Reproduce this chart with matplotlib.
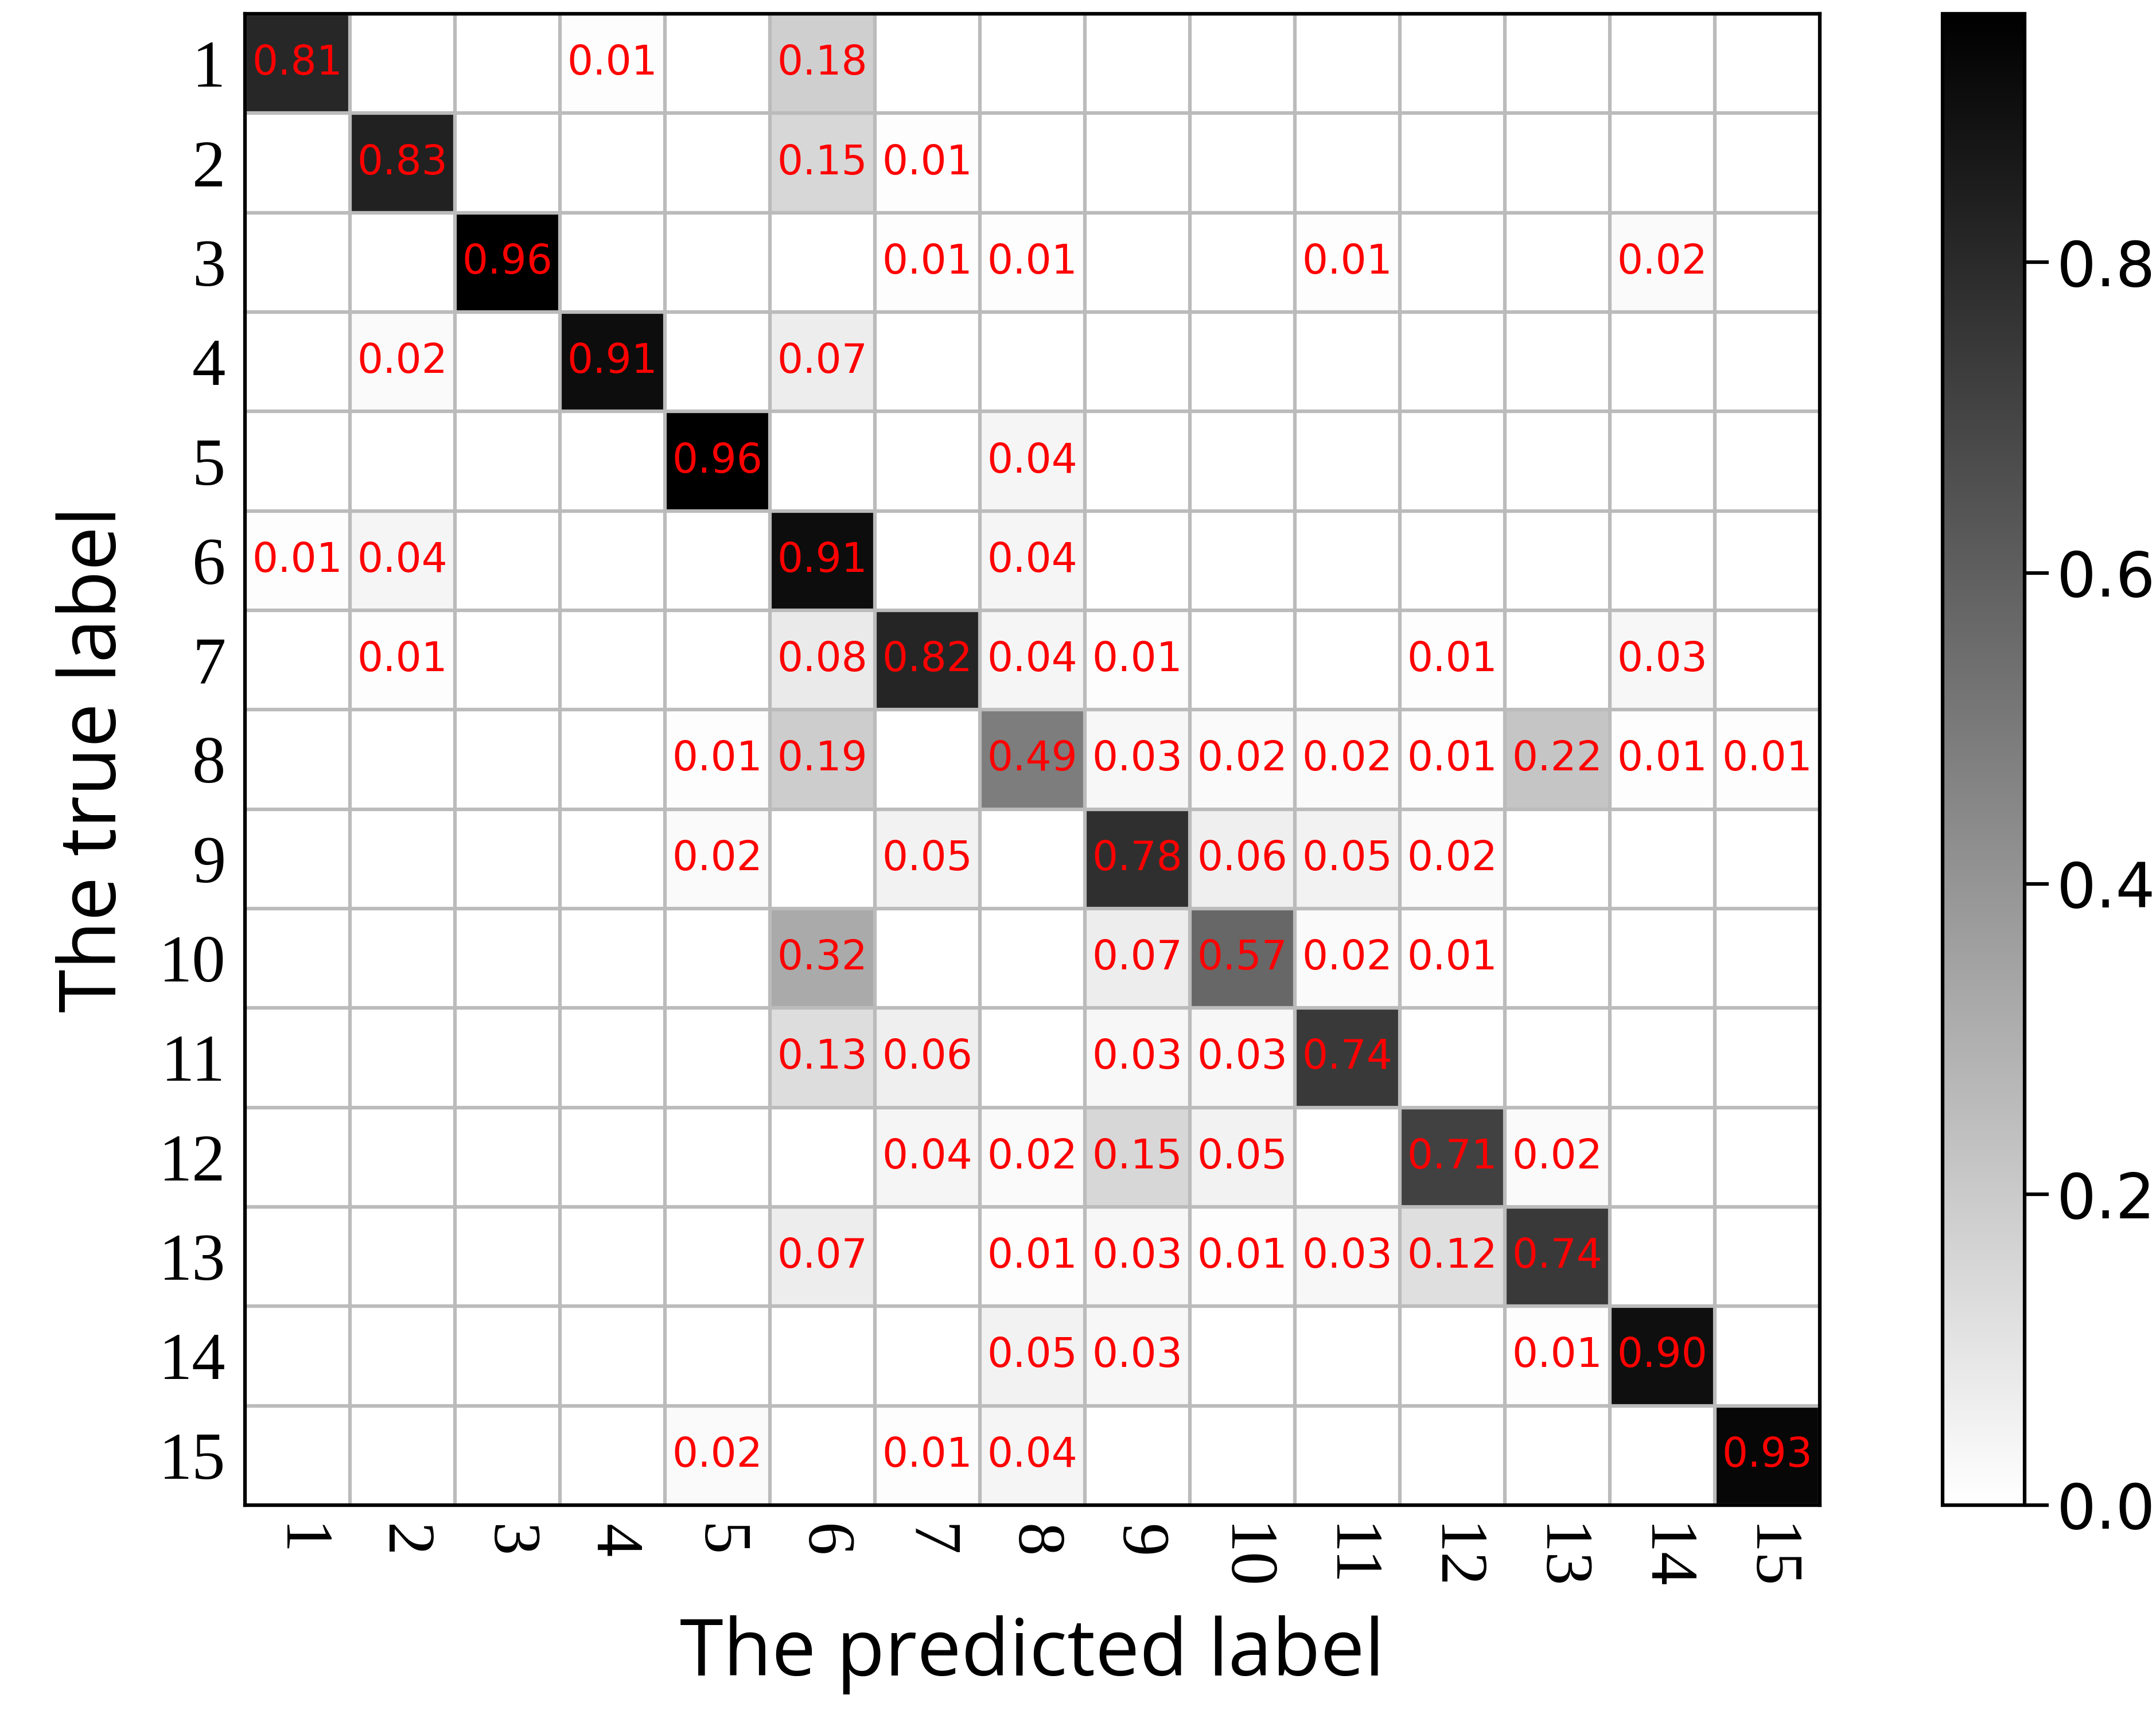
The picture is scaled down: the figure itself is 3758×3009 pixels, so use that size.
import matplotlib.pyplot as plt
import numpy as np

labels = [str(i) for i in range(1, 16)]

# nonzero entries per true-label row: {predicted column: value}
rows = [
    {1: 0.81, 4: 0.01, 6: 0.18},
    {2: 0.83, 6: 0.15, 7: 0.01},
    {3: 0.96, 7: 0.01, 8: 0.01, 11: 0.01, 14: 0.02},
    {2: 0.02, 4: 0.91, 6: 0.07},
    {5: 0.96, 8: 0.04},
    {1: 0.01, 2: 0.04, 6: 0.91, 8: 0.04},
    {2: 0.01, 6: 0.08, 7: 0.82, 8: 0.04, 9: 0.01, 12: 0.01, 14: 0.03},
    {5: 0.01, 6: 0.19, 8: 0.49, 9: 0.03, 10: 0.02, 11: 0.02, 12: 0.01,
     13: 0.22, 14: 0.01, 15: 0.01},
    {5: 0.02, 7: 0.05, 9: 0.78, 10: 0.06, 11: 0.05, 12: 0.02},
    {6: 0.32, 9: 0.07, 10: 0.57, 11: 0.02, 12: 0.01},
    {6: 0.13, 7: 0.06, 9: 0.03, 10: 0.03, 11: 0.74},
    {7: 0.04, 8: 0.02, 9: 0.15, 10: 0.05, 12: 0.71, 13: 0.02},
    {6: 0.07, 8: 0.01, 9: 0.03, 10: 0.01, 11: 0.03, 12: 0.12, 13: 0.74},
    {8: 0.05, 9: 0.03, 13: 0.01, 14: 0.90},
    {5: 0.02, 7: 0.01, 8: 0.04, 15: 0.93},
]

n = len(labels)
cm = np.zeros((n, n))
for i, r in enumerate(rows):
    for j, v in r.items():
        cm[i, j - 1] = v

fig = plt.figure(figsize=(3758 / 300, 3009 / 300), dpi=300)
ax = fig.add_axes([0.1135, 0.128, 0.7305, 0.864])
cax = fig.add_axes([0.901, 0.128, 0.038, 0.864])

im = ax.imshow(cm, cmap="gray_r", vmin=0, vmax=0.96, aspect="auto")

for i in range(n):
    for j in range(n):
        if cm[i, j] > 0:
            ax.text(j, i, f"{cm[i, j]:.2f}", ha="center", va="center",
                    color="red", fontsize=17)

# cell grid
ax.set_xticks(np.arange(-0.5, n, 1), minor=True)
ax.set_yticks(np.arange(-0.5, n, 1), minor=True)
ax.grid(which="minor", color="#bbbbbb", linewidth=1.5)
ax.tick_params(which="minor", length=0)

ax.set_xticks(range(n))
ax.set_yticks(range(n))
ax.set_xticklabels(labels, rotation=-90, family="Liberation Serif", fontsize=28)
ax.set_yticklabels(labels, family="Liberation Serif", fontsize=28)
ax.tick_params(which="major", length=0, pad=8)
for s in ax.spines.values():
    s.set_linewidth(1.5)

ax.set_xlabel("The predicted label", fontsize=33, family="Open Sans", labelpad=10)
ax.set_ylabel("The true label", fontsize=33, family="Open Sans", labelpad=10)

cb = fig.colorbar(im, cax=cax)
cb.set_ticks([0.0, 0.2, 0.4, 0.6, 0.8])
cb.ax.tick_params(labelsize=26, length=10, width=1.5)
cb.outline.set_linewidth(1.5)

fig.savefig("out.png", dpi=300)
